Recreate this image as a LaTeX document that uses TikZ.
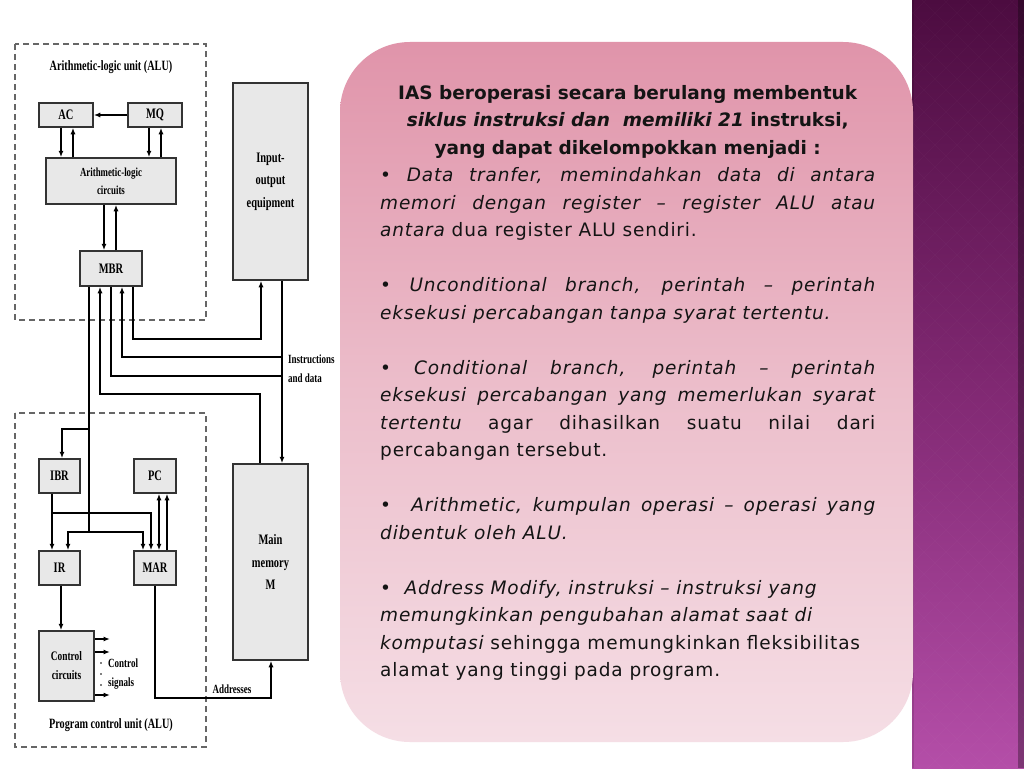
\documentclass[tikz,border=0pt]{standalone}
\usepackage{fontspec}
\setmainfont{DejaVu Sans}[UprightFeatures={LetterSpace=4.5}, ItalicFeatures={LetterSpace=4.5}]
\newfontfamily\dfont[FakeStretch=0.72]{Liberation Serif}
\usetikzlibrary{arrows.meta}
\definecolor{panelTop}{RGB}{224,148,170}
\definecolor{panelMid}{RGB}{236,190,203}
\definecolor{panelBot}{RGB}{245,222,229}
\definecolor{bandTop}{RGB}{76,12,64}
\definecolor{bandMid}{RGB}{128,40,114}
\definecolor{bandBot}{RGB}{180,78,168}
\definecolor{boxfill}{RGB}{232,232,232}
\newcommand\jline[1]{\hbox to 495pt{#1}}
\newcommand\rline[1]{\hbox{#1}}
\newcommand\ctrline[1]{\hbox to 495pt{\hfil#1\hfil}}
\begin{document}
\begin{tikzpicture}[x=1pt,y=-1pt,
  blk/.style={draw=black!80, fill=boxfill, line width=1.5pt, inner sep=0pt, align=center,
    font=\dfont\bfseries\fontsize{14.5}{22.5}\selectfont},
  conn/.style={line width=1.8pt, black},
  arr/.style={conn, -{Latex[length=6.5pt,width=5pt]}},
  darr/.style={conn, {Latex[length=6.5pt,width=5pt]}-{Latex[length=6.5pt,width=5pt]}},
  grp/.style={draw=black!60, dash pattern=on 6pt off 4pt, line width=1.4pt},
  lbl/.style={inner sep=0pt, font=\dfont\bfseries\fontsize{14.2}{19}\selectfont},
  slbl/.style={inner sep=0pt, align=left, font=\dfont\bfseries\fontsize{12.5}{18.5}\selectfont}]
\useasboundingbox (0,0) rectangle (1024,768);
\fill[white] (0,0) rectangle (1024,768);

% purple band
\shade[top color=bandTop, bottom color=bandBot, middle color=bandMid] (912,0) rectangle (1024,768);
\begin{scope}
  \clip (912,0) rectangle (1024,768);
  \foreach \i in {0,22,...,900} {
    \draw[white, opacity=0.02, line width=1pt] (912,\i-120) -- (1024,\i-8);
    \draw[white, opacity=0.02, line width=1pt] (1024,\i-120) -- (912,\i-8);
  }
\end{scope}
\fill[black, opacity=0.12] (912,0) rectangle (914,768);
\fill[black, opacity=0.3] (1018,0) rectangle (1024,768);

% pink panel
\shade[rounded corners=70pt, top color=panelTop, bottom color=panelBot, middle color=panelMid]
  (340,42) rectangle (913,742);

\node[anchor=base west, inner sep=0pt, text=black!92] (txt) at (380,99) {%
\fontsize{18.5}{27.5}\selectfont
\vtop{\baselineskip=27.5pt \lineskiplimit=-10pt
\ctrline{\bfseries IAS beroperasi secara berulang membentuk}
\ctrline{\bfseries\itshape siklus instruksi dan\ \ memiliki 21\upshape\ instruksi,}
\ctrline{\bfseries yang dapat dikelompokkan menjadi :}
\jline{• \itshape Data tranfer, memindahkan data di antara}
\jline{\itshape memori dengan register – register ALU atau}
\rline{\itshape antara\upshape\ dua register ALU sendiri.}
\rline{}
\jline{• \itshape Unconditional branch, perintah – perintah}
\rline{\itshape eksekusi percabangan tanpa syarat tertentu.}
\rline{}
\jline{• \itshape Conditional branch, perintah – perintah}
\jline{\itshape eksekusi percabangan yang memerlukan syarat}
\jline{\itshape tertentu\upshape\ agar dihasilkan suatu nilai dari}
\rline{percabangan tersebut.}
\rline{}
\jline{•\ \ \itshape Arithmetic, kumpulan operasi – operasi yang}
\rline{\itshape dibentuk oleh ALU.}
\rline{}
\rline{•\ \ \itshape Address Modify, instruksi – instruksi yang}
\rline{\itshape memungkinkan pengubahan alamat saat di}
\rline{\itshape komputasi\upshape\ sehingga memungkinkan fleksibilitas}
\rline{alamat yang tinggi pada program.}
}};

% ---------------- diagram ----------------
\draw[grp] (15,44) rectangle (206,320);
\draw[grp] (15,413) rectangle (206,747);
\node[lbl] (alut) at (111,67) {Arithmetic-logic unit (ALU)};
\node[lbl] (pcut) at (111,725) {Program control unit (ALU)};

\node[blk, minimum width=54pt, minimum height=24pt] (ac) at (66,115) {AC};
\node[blk, minimum width=54pt, minimum height=24pt] (mq) at (155,115) {MQ};
\node[blk, minimum width=130pt, minimum height=46pt, font=\dfont\bfseries\fontsize{12.3}{18}\selectfont] (alc) at (111,181) {Arithmetic-logic\\circuits};
\node[blk, minimum width=62pt, minimum height=35pt] (mbr) at (111,268.5) {MBR};
\node[blk, minimum width=75pt, minimum height=197pt] (io) at (270.5,181.5) {Input-\\output\\equipment};
\node[blk, minimum width=75pt, minimum height=196pt] (mem) at (270.5,562) {Main\\memory\\M};
\node[blk, minimum width=41pt, minimum height=34pt] (ibr) at (59.5,476) {IBR};
\node[blk, minimum width=42pt, minimum height=34pt] (pc) at (155,476) {PC};
\node[blk, minimum width=41pt, minimum height=34pt] (ir) at (59.5,568) {IR};
\node[blk, minimum width=42pt, minimum height=34pt] (mar) at (155,568) {MAR};
\node[blk, minimum width=55pt, minimum height=70pt, font=\dfont\bfseries\fontsize{13}{19}\selectfont] (ctl) at (66.5,666) {Control\\circuits};

% ALU internal
\draw[arr] (mq.west) -- (ac.east);
\draw[arr] (ac.south -| 61,0) -- (alc.north -| 61,0);
\draw[arr] (alc.north -| 73,0) -- (ac.south -| 73,0);
\draw[arr] (mq.south -| 149,0) -- (alc.north -| 149,0);
\draw[arr] (alc.north -| 161,0) -- (mq.south -| 161,0);
\draw[arr] (alc.south -| 104,0) -- (mbr.north -| 104,0);
\draw[arr] (mbr.north -| 116,0) -- (alc.south -| 116,0);

% MBR <-> IO / memory
\draw[arr] (mbr.south -| 133,0) -- (133,339) -- (261,339) -- (io.south -| 261,0);
\draw[arr] (io.south -| 282,0) -- (mem.north -| 282,0);
\draw[arr] (282,357) -- (122,357) -- (mbr.south -| 122,0);
\draw[conn] (mbr.south -| 111,0) -- (111,376) -- (282,376);
\draw[arr] (mem.north -| 260,0) -- (260,394) -- (100,394) -- (mbr.south -| 100,0);
\node[slbl, anchor=west] (instr) at (288,368.5) {Instructions\\and data};

% MBR -> IBR / IR / MAR
\draw[conn] (mbr.south -| 89,0) -- (89,532);
\draw[arr] (89,429) -- (62,429) -- (ibr.north -| 62,0);
\draw[arr] (89,532) -- (68,532) -- (ir.north -| 68,0);
\draw[arr] (89,532) -- (143,532) -- (mar.north -| 143,0);

% IBR -> IR / MAR
\draw[arr] (ibr.south -| 52,0) -- (ir.north -| 52,0);
\draw[arr] (52,513) -- (151,513) -- (mar.north -| 151,0);

% PC <-> MAR
\draw[darr] (pc.south -| 159,0) -- (mar.north -| 159,0);
\draw[arr] (mar.north -| 167,0) -- (pc.south -| 167,0);

% IR -> control
\draw[arr] (ir.south -| 61,0) -- (ctl.north -| 61,0);

% control signals
\draw[arr] (ctl.east |- 0,639) -- (110,639);
\draw[arr] (ctl.east |- 0,652) -- (110,652);
\draw[arr] (ctl.east |- 0,695) -- (110,695);
\foreach \yy in {663,674,685} \fill (101,\yy) circle (0.9pt);
\node[slbl, anchor=west] (csig) at (108,674) {Control\\signals};

% MAR -> memory
\draw[arr] (mar.south -| 155,0) -- (155,698) -- (271,698) -- (mem.south -| 271,0);
\node[slbl] (addr) at (232,689) {Addresses};
\end{tikzpicture}
\end{document}
